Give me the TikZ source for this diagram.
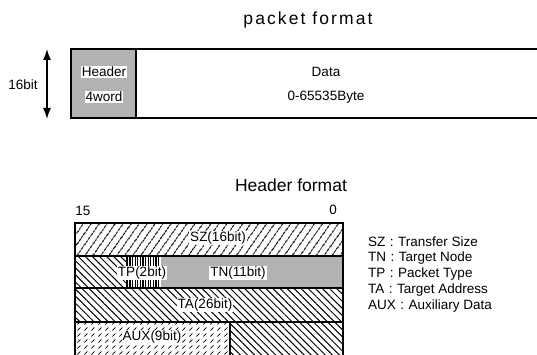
\documentclass[tikz,border=0pt]{standalone}
\usepackage{fontspec}
\setmainfont{Liberation Sans}
\usepackage{tikz}
\usetikzlibrary{arrows.meta, patterns, patterns.meta}

\tikzdeclarepattern{
  name=auxdash,
  type=uncolored,
  bounding box={(0pt,0pt) and (7pt,6pt)},
  tile size={(7pt,6pt)},
  code={\draw[line width=.8pt] (.5pt,.5pt) -- (3.8pt,4pt);}
}

\begin{document}
\begin{tikzpicture}[
    x=1pt, y=-1pt,
    txt/.style = {font=\fontsize{13.5}{15}\selectfont, inner sep=1pt},
    lbl/.style = {txt, fill=white},
    title/.style = {font=\fontsize{17.5}{19}\selectfont},
    frame/.style = {draw, line width=1.3pt},
    stipple/.style = {fill=black!30},
    szhatch/.style = {pattern={Lines[angle=55, distance=6.5pt, line width=1pt]}},
    tahatch/.style = {pattern={Lines[angle=-45, distance=5pt, line width=1pt]}},
    tphatch/.style = {pattern={Lines[angle=90, distance=2.6pt, line width=1.1pt]}},
    arrow/.style = {{Latex[length=11pt,width=8pt]}-{Latex[length=11pt,width=8pt]}, line width=1.4pt}
  ]
    \useasboundingbox (0,0) rectangle (537,355);

    % packet format
    \node[title, font=\fontsize{17.5}{19}\selectfont\addfontfeature{LetterSpace=12}] (ptitle) at (308,20) {packet format};
    \fill[stipple] (71,49) rectangle (136,118);
    \draw[frame] (71,49) rectangle (545,118);
    \draw[frame] (136,49) -- (136,118);
    \node[lbl] (hdr) at (104,72) {Header};
    \node[lbl] (hword) at (104,97) {4word};
    \node[txt] (data) at (326,72) {Data};
    \node[txt] (dlen) at (326,97) {0-65535Byte};

    \coordinate (bittop) at (47,49);
    \coordinate (bitbot) at (47,119);
    \draw[arrow] (bittop) -- (bitbot);
    \node[txt] (bits) at (23,85) {16bit};

    % header format
    \node[title] (htitle) at (291,185) {Header format};
    \node[txt] (msb) at (83,211) {15};
    \node[txt] (lsb) at (333,210) {0};

    \filldraw[frame, szhatch] (75,223) rectangle (343,256);
    \filldraw[frame, tahatch] (75,256) rectangle (127,288);
    \fill[tphatch] (127,256) rectangle (161,288);
    \fill[stipple] (161,256) rectangle (343,288);
    \draw[frame] (75,256) rectangle (343,288);
    \filldraw[frame, tahatch] (75,288) rectangle (343,322);
    \filldraw[frame, pattern=auxdash] (75,322) rectangle (230,365);
    \filldraw[frame, tahatch] (230,322) rectangle (343,365);

    \node[lbl] (sz) at (218,238) {SZ(16bit)};
    \node[lbl] (tp) at (142,273) {TP(2bit)};
    \node[lbl] (tn) at (238,273) {TN(11bit)};
    \node[lbl] (ta) at (205,305) {TA(26bit)};
    \node[lbl] (aux) at (152,337) {AUX(9bit)};

    % legend
    \node[txt, anchor=west] (lsz) at (367,242) {SZ\,\,:\,\,Transfer Size};
    \node[txt, anchor=west] (ltn) at (367,258) {TN\,\,:\,\,Target Node};
    \node[txt, anchor=west] (ltp) at (367,274) {TP\,\,:\,\,Packet Type};
    \node[txt, anchor=west] (lta) at (367,290) {TA\,\,:\,\,Target Address};
    \node[txt, anchor=west] (laux) at (367,306) {AUX\,\,:\,\,Auxiliary Data};
  \end{tikzpicture}
\end{document}
